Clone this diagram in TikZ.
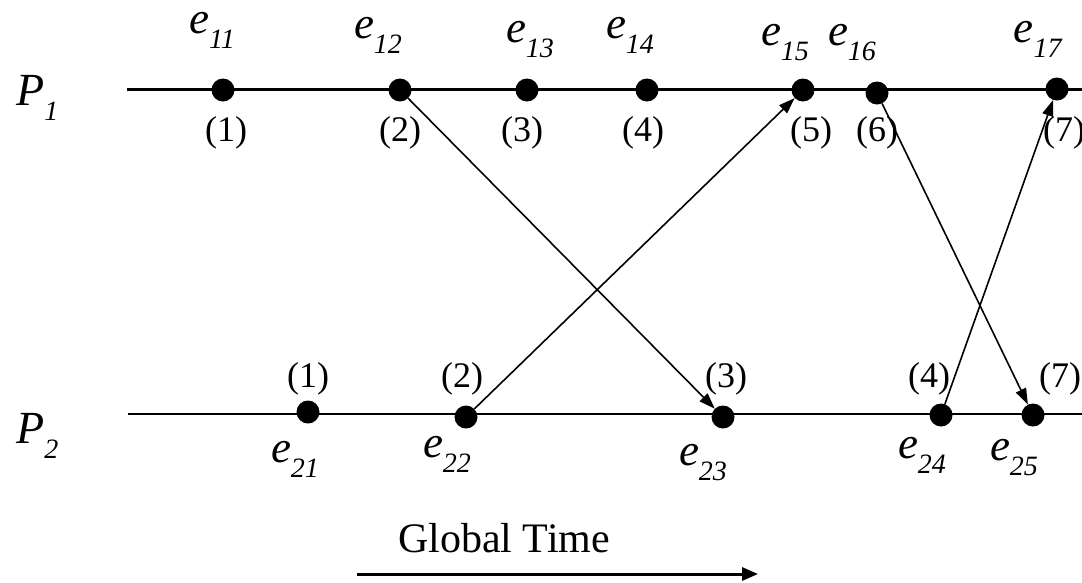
\documentclass[tikz,border=0pt]{standalone}
\usepackage{fontspec}
\setmainfont{Liberation Serif}
\usetikzlibrary{arrows.meta}
\newcommand{\ev}[1]{\textit{e}\raisebox{-15pt}{\fontsize{28}{28}\selectfont\textit{#1}}}
\newcommand{\pv}[1]{\textit{P}\raisebox{-15pt}{\fontsize{28}{28}\selectfont\textit{#1}}}
\tikzset{
  evdot/.style={circle,fill=black,inner sep=0pt,minimum size=23pt},
  axisline/.style={line width=2.2pt},
  msg/.style={line width=1.6pt,-{Triangle[length=16pt,width=11pt]}},
  elabel/.style={anchor=base,inner sep=0pt,font=\fontsize{45}{45}\selectfont},
  plabel/.style={anchor=base west,inner sep=0pt,font=\fontsize{46}{46}\selectfont},
  nlabel/.style={anchor=center,inner sep=0pt,font=\fontsize{36}{36}\selectfont},
  gtext/.style={anchor=base,inner sep=0pt,font=\fontsize{42}{42}\selectfont},
  garrow/.style={line width=3pt,-{Triangle[length=16pt,width=13pt]}}
}
\begin{document}
\begin{tikzpicture}[x=1pt,y=-1pt]
\useasboundingbox (0,0) rectangle (1082,582);
% process lines
\coordinate (p1s) at (127,89.5);
\coordinate (p1e) at (1082,89.5);
\coordinate (p2s) at (128,414);
\coordinate (p2e) at (1082,414);
\draw[axisline] (p1s) -- (p1e);
\draw[axisline] (p2s) -- (p2e);
% process labels
\node[plabel] (P1) at (16,105) {\pv{1}};
\node[plabel] (P2) at (16,443) {\pv{2}};
% events P1
\node[evdot] (e11) at (223,90) {};
\node[evdot] (e12) at (400,90) {};
\node[evdot] (e13) at (527,90) {};
\node[evdot] (e14) at (647,90) {};
\node[evdot] (e15) at (803,90) {};
\node[evdot] (e16) at (877,93) {};
\node[evdot] (e17) at (1057,89) {};
% events P2
\node[evdot] (e21) at (308,412) {};
\node[evdot] (e22) at (466,417) {};
\node[evdot] (e23) at (723,417) {};
\node[evdot] (e24) at (941,415) {};
\node[evdot] (e25) at (1033,415) {};
% event names P1
\node[elabel] (l11) at (212,33) {\ev{11}};
\node[elabel] (l12) at (378,38) {\ev{12}};
\node[elabel] (l13) at (530,42) {\ev{13}};
\node[elabel] (l14) at (630,38) {\ev{14}};
\node[elabel] (l15) at (785,45) {\ev{15}};
\node[elabel] (l16) at (852,45) {\ev{16}};
\node[elabel] (l17) at (1038,42) {\ev{17}};
% event names P2
\node[elabel] (l21) at (295,462) {\ev{21}};
\node[elabel] (l22) at (447,457) {\ev{22}};
\node[elabel] (l23) at (703,465) {\ev{23}};
\node[elabel] (l24) at (922,458) {\ev{24}};
\node[elabel] (l25) at (1014,460) {\ev{25}};
% numbers P1
\node[nlabel] (n11) at (226,133) {(1)};
\node[nlabel] (n12) at (400,133) {(2)};
\node[nlabel] (n13) at (522,133) {(3)};
\node[nlabel] (n14) at (643,133) {(4)};
\node[nlabel] (n15) at (811,133) {(5)};
\node[nlabel] (n16) at (877,133) {(6)};
\node[nlabel] (n17) at (1064,133) {(7)};
% numbers P2
\node[nlabel] (n21) at (308,379) {(1)};
\node[nlabel] (n22) at (462,379) {(2)};
\node[nlabel] (n23) at (726,379) {(3)};
\node[nlabel] (n24) at (929,379) {(4)};
\node[nlabel] (n25) at (1060,379) {(7)};
% messages
\draw[msg] (e12) -- (e23);
\draw[msg] (e22) -- (e15);
\draw[msg] (e16) -- (e25);
\draw[msg] (e24) -- (e17);
% global time
\node[gtext] (gt) at (504,552) {Global Time};
\coordinate (gs) at (357,574);
\coordinate (ge) at (758,574);
\draw[garrow] (gs) -- (ge);
\end{tikzpicture}
\end{document}
